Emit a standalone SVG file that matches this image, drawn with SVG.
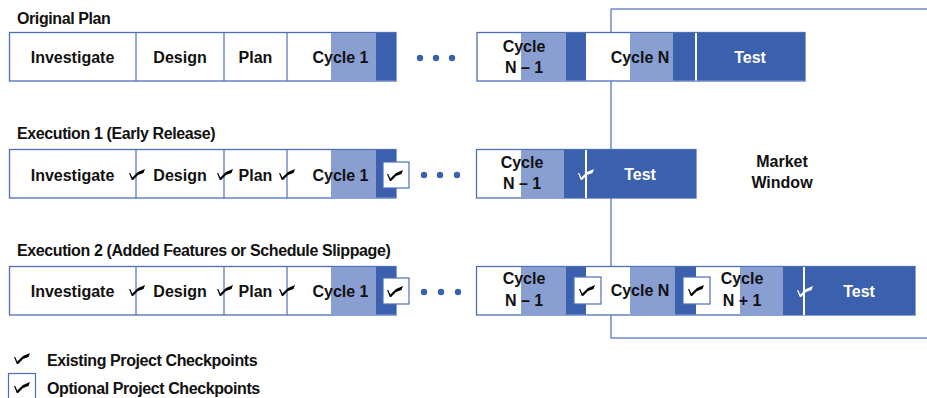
<svg xmlns="http://www.w3.org/2000/svg" xmlns:xlink="http://www.w3.org/1999/xlink" width="927" height="398" viewBox="0 0 927 398">
<defs>
<style>
text{font-family:"Liberation Sans",Arial,sans-serif;font-weight:bold;font-size:16px;fill:#111}
.c{text-anchor:middle}
.h{letter-spacing:-0.4px}
.w{fill:#fff}
.cell{fill:#fff;stroke:#4d6fbb;stroke-width:1.3}
.div{stroke:#4d6fbb;stroke-width:1.2}
.lt{fill:#8a9fd1}
.dk{fill:#3b60ae}
.mw{fill:none;stroke:#6f8bcc;stroke-width:1.5}
.wl{stroke:#fff;stroke-width:2}
.dot{fill:#3b60ae}
.box{fill:#fff;stroke:#4d6fbb;stroke-width:1.2}
</style>
<path id="ck" d="M0,5 L1.2,5 L3.3,9.6 L9,4 L16,1 L14.5,5 L9,7 L4,12 L2.8,12 Z"/>
</defs>
<rect width="927" height="398" fill="#fff"/>
<g id="market-window">
<path class="mw" d="M611,9 H927 M611,9 V338 H927"/>
<text class="c" x="782" y="167">Market</text>
<text class="c" x="782" y="188">Window</text>
</g>
<g id="row-original">
<text class="h" x="17" y="24">Original Plan</text>
<rect class="cell" x="9.5" y="32.5" width="386.5" height="48.5"/>
<rect class="lt" x="331" y="33" width="45" height="47.5"/>
<rect class="dk" x="376" y="33" width="20" height="47.5"/>
<line class="div" x1="136" y1="33" x2="136" y2="81"/>
<line class="div" x1="224" y1="33" x2="224" y2="81"/>
<line class="div" x1="287" y1="33" x2="287" y2="81"/>
<text class="c" x="72.5" y="63">Investigate</text>
<text class="c" x="180" y="63">Design</text>
<text class="c" x="255.5" y="63">Plan</text>
<text class="c" x="340.5" y="63">Cycle 1</text>
<circle class="dot" cx="420" cy="58" r="3.2"/><circle class="dot" cx="436" cy="58" r="3.2"/><circle class="dot" cx="452" cy="58" r="3.2"/>
<rect class="cell" x="477" y="32.5" width="328" height="48.5"/>
<rect class="lt" x="521" y="33" width="45" height="47.5"/>
<rect class="dk" x="566" y="33" width="20" height="47.5"/>
<rect class="lt" x="630" y="33" width="43" height="47.5"/>
<rect class="dk" x="673" y="33" width="132" height="47.5"/>
<line class="wl" x1="696" y1="33" x2="696" y2="80.5"/>
<text class="c" x="524" y="52">Cycle</text>
<text class="c" x="524" y="73">N – 1</text>
<text class="c" x="640" y="63">Cycle N</text>
<text class="c w" x="750" y="63">Test</text>
</g>
<g id="row-exec1">
<text class="h" x="17" y="139">Execution 1 (Early Release)</text>
<rect class="cell" x="9.5" y="149.5" width="386.5" height="48.5"/>
<rect class="lt" x="331" y="150" width="45" height="47.5"/>
<rect class="dk" x="376" y="150" width="20" height="47.5"/>
<line class="div" x1="136" y1="150" x2="136" y2="198"/>
<line class="div" x1="224" y1="150" x2="224" y2="198"/>
<line class="div" x1="287" y1="150" x2="287" y2="198"/>
<text class="c" x="72.5" y="181">Investigate</text>
<text class="c" x="180" y="181">Design</text>
<text class="c" x="255.5" y="181">Plan</text>
<text class="c" x="340.5" y="181">Cycle 1</text>
<use xlink:href="#ck" x="129" y="168"/>
<use xlink:href="#ck" x="217" y="168"/>
<use xlink:href="#ck" x="279" y="168"/>
<rect class="box" x="383" y="162" width="26" height="26"/>
<use xlink:href="#ck" x="387" y="169"/>
<circle class="dot" cx="424" cy="175" r="3.2"/><circle class="dot" cx="440" cy="175" r="3.2"/><circle class="dot" cx="457" cy="175" r="3.2"/>
<rect class="cell" x="476.5" y="149.5" width="219.5" height="48.5"/>
<rect class="lt" x="521" y="150" width="43" height="47.5"/>
<rect class="dk" x="564" y="150" width="132" height="48"/>
<line class="wl" x1="586" y1="150" x2="586" y2="198"/>
<use xlink:href="#ck" x="578" y="168" fill="#fff"/>
<text class="c" x="522" y="168">Cycle</text>
<text class="c" x="522" y="189">N – 1</text>
<text class="c w" x="640" y="180">Test</text>
</g>
<g id="row-exec2">
<text class="h" x="17" y="256">Execution 2 (Added Features or Schedule Slippage)</text>
<rect class="cell" x="9.5" y="266.5" width="386.5" height="48.5"/>
<rect class="lt" x="331" y="267" width="45" height="47.5"/>
<rect class="dk" x="376" y="267" width="20" height="47.5"/>
<line class="div" x1="136" y1="267" x2="136" y2="315"/>
<line class="div" x1="224" y1="267" x2="224" y2="315"/>
<line class="div" x1="287" y1="267" x2="287" y2="315"/>
<text class="c" x="72.5" y="297">Investigate</text>
<text class="c" x="180" y="297">Design</text>
<text class="c" x="255.5" y="297">Plan</text>
<text class="c" x="340.5" y="297">Cycle 1</text>
<use xlink:href="#ck" x="129" y="284"/>
<use xlink:href="#ck" x="217" y="284"/>
<use xlink:href="#ck" x="279" y="284"/>
<rect class="box" x="383" y="278" width="26" height="26"/>
<use xlink:href="#ck" x="387" y="285"/>
<circle class="dot" cx="424" cy="292" r="3.2"/><circle class="dot" cx="441" cy="292" r="3.2"/><circle class="dot" cx="458" cy="292" r="3.2"/>
<rect class="cell" x="476.5" y="266.5" width="438.5" height="48.5"/>
<rect class="lt" x="521" y="267" width="45" height="47.5"/>
<rect class="dk" x="566" y="267" width="20" height="47.5"/>
<rect class="lt" x="630" y="267" width="45" height="47.5"/>
<rect class="dk" x="675" y="267" width="21" height="47.5"/>
<rect class="lt" x="740" y="267" width="43" height="47.5"/>
<rect class="dk" x="783" y="267" width="132" height="48"/>
<line class="wl" x1="804" y1="267" x2="804" y2="315"/>
<rect class="box" x="574" y="277" width="27" height="27"/>
<use xlink:href="#ck" x="579" y="284"/>
<rect class="box" x="683" y="277" width="27" height="27"/>
<use xlink:href="#ck" x="688" y="284"/>
<use xlink:href="#ck" x="797" y="285" fill="#fff"/>
<text class="c" x="524" y="284">Cycle</text>
<text class="c" x="524" y="306">N – 1</text>
<text class="c" x="640" y="296">Cycle N</text>
<text class="c" x="742" y="284">Cycle</text>
<text class="c" x="742" y="306">N + 1</text>
<text class="c w" x="859" y="297">Test</text>
</g>
<g id="legend">
<use xlink:href="#ck" x="14" y="352"/>
<text class="h" x="47" y="366">Existing Project Checkpoints</text>
<rect class="box" x="8.5" y="373.5" width="27" height="27"/>
<use xlink:href="#ck" x="14" y="381"/>
<text class="h" x="47" y="394">Optional Project Checkpoints</text>
</g>
</svg>
